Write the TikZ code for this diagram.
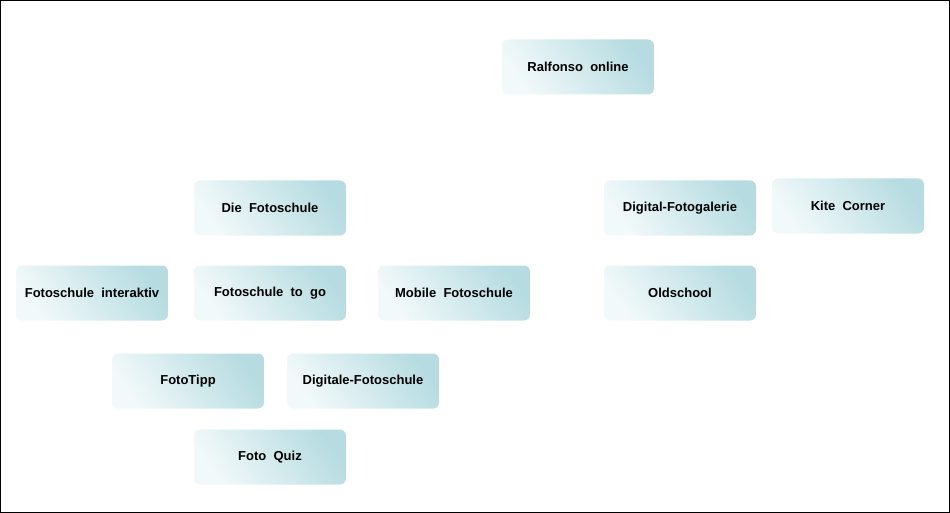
\documentclass[tikz,border=0pt]{standalone}
\usepackage{fontspec}
\setmainfont{Liberation Sans}
\definecolor{boxlight}{HTML}{F2F9FA}
\definecolor{boxdark}{HTML}{B6DCE1}
\tikzset{
    page-box/.style = {rounded corners=6pt, minimum width=152pt, minimum height=55pt, inner sep=0pt,
        left color=boxlight, right color=boxdark, shading angle=125,
        font=\fontsize{13}{15}\selectfont\bfseries},
}
\begin{document}
\begin{tikzpicture}[x=1pt,y=-1pt]
\draw[black, line width=1pt] (0.5,0.5) rectangle (949.5,512.5);
\useasboundingbox (0,0) rectangle (950,513);
\node[page-box] (ralfonso) at (578,67) {Ralfonso\ \ online};
\node[page-box] (fotoschule) at (270,208) {Die\ \ Fotoschule};
\node[page-box] (galerie) at (680,208) {Digital-Fotogalerie};
\node[page-box] (kite) at (848,206) {Kite\ \ Corner};
\node[page-box] (interaktiv) at (92,293) {Fotoschule\ \ interaktiv};
\node[page-box] (togo) at (270,293) {Fotoschule\ \ to\ \ go};
\node[page-box] (mobile) at (454,293) {Mobile\ \ Fotoschule};
\node[page-box] (oldschool) at (680,293) {Oldschool};
\node[page-box] (fototipp) at (188,381) {FotoTipp};
\node[page-box] (digitale) at (363,381) {Digitale-Fotoschule};
\node[page-box] (quiz) at (270,457) {Foto\ \ Quiz};
\end{tikzpicture}
\end{document}
